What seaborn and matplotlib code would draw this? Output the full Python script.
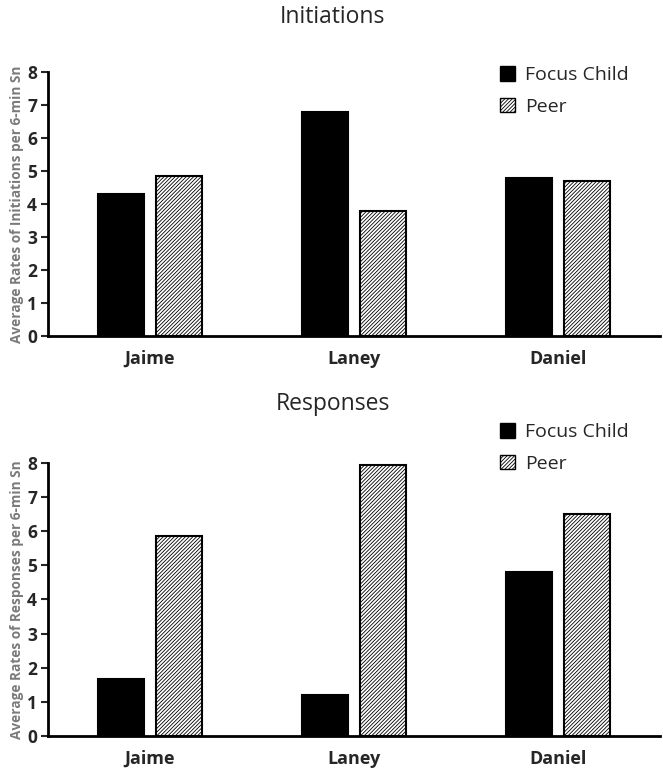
import pandas as pd
import numpy as np
import matplotlib
matplotlib.use("Agg")
import matplotlib.pyplot as plt
import seaborn as sns
from matplotlib.patches import Patch

# Data
children = ["Jaime", "Laney", "Daniel"]
groups = ["Focus Child", "Peer"]
initiations_focus = [4.3, 6.8, 4.8]
initiations_peer = [4.85, 3.8, 4.7]
responses_focus = [1.68, 1.2, 4.8]
responses_peer = [5.85, 7.95, 6.5]
yticks = [0, 1, 2, 3, 4, 5, 6, 7, 8]


def make_df(focus, peer):
    return pd.DataFrame({
        "child": children * 2,
        "group": [groups[0]] * 3 + [groups[1]] * 3,
        "value": focus + peer,
    })


sns.set_style("white")
plt.rcParams["font.family"] = ["Open Sans", "DejaVu Sans"]
plt.rcParams["hatch.linewidth"] = 0.6

fig = plt.figure(figsize=(6.63, 7.73), dpi=100)
ax1 = fig.add_axes([0.0724, 0.565, 0.923, 0.342])
ax2 = fig.add_axes([0.0724, 0.048, 0.923, 0.353])

panels = [
    (ax1, make_df(initiations_focus, initiations_peer), "Initiations",
     "Average Rates of Initiations per 6-min Sn", 0.978, 0.937),
    (ax2, make_df(responses_focus, responses_peer), "Responses",
     "Average Rates of Responses per 6-min Sn", 0.478, 0.475),
]

for ax, df, title, ylabel, title_y, leg_y in panels:
    sns.barplot(data=df, x="child", y="value", hue="group", order=children,
                hue_order=groups, palette=["black", "white"], width=0.57,
                gap=0.21, edgecolor="black", linewidth=1.5, ax=ax,
                legend=False)
    for bar in ax.containers[1]:
        bar.set_hatch("/////////")
        bar.set_facecolor("white")
    ax.set_xlim(-0.5, 2.5)
    ax.set_ylim(0, 8)
    ax.set_yticks(yticks)
    ax.set_yticklabels([str(t) for t in yticks], fontsize=12.5, fontweight="bold")
    for lbl in ax.get_xticklabels():
        lbl.set_fontsize(13)
        lbl.set_fontweight("bold")
    ax.tick_params(axis="x", length=0, pad=10)
    ax.tick_params(axis="y", direction="out", length=5, width=1.5, left=True, pad=3)
    ax.set_xlabel("")
    ax.set_ylabel(ylabel, fontsize=9.8, fontweight="bold", color="#7a7a7a", labelpad=2)
    sns.despine(ax=ax)
    for s in ["left", "bottom"]:
        ax.spines[s].set_linewidth(2)
        ax.spines[s].set_color("black")
    fig.text(0.502, title_y, title, fontsize=16.5, ha="center", va="center")
    handles = [Patch(facecolor="black", edgecolor="black"),
               Patch(facecolor="white", edgecolor="black", hatch="/////////")]
    fig.legend(handles, groups, loc="upper left", bbox_to_anchor=(0.728, leg_y),
               frameon=False, fontsize=14, handlelength=0.75, handleheight=0.75,
               handletextpad=0.55, labelspacing=0.7)

fig.savefig("out.png", dpi=100)
